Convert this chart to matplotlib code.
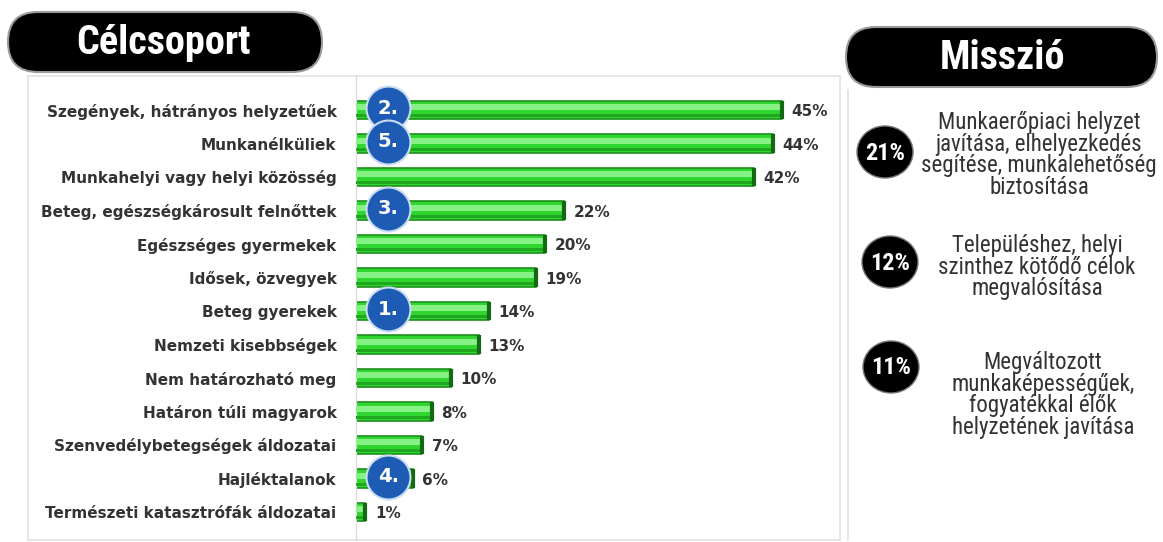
import matplotlib
matplotlib.use("Agg")
import matplotlib.pyplot as plt
from matplotlib.patches import FancyBboxPatch, Rectangle, Ellipse

categories = [
    "Szegények, hátrányos helyzetűek",
    "Munkanélküliek",
    "Munkahelyi vagy helyi közösség",
    "Beteg, egészségkárosult felnőttek",
    "Egészséges gyermekek",
    "Idősek, özvegyek",
    "Beteg gyerekek",
    "Nemzeti kisebbségek",
    "Nem határozható meg",
    "Határon túli magyarok",
    "Szenvedélybetegségek áldozatai",
    "Hajléktalanok",
    "Természeti katasztrófák áldozatai",
]
values = [45, 44, 42, 22, 20, 19, 14, 13, 10, 8, 7, 6, 1]
badges = ["2.", "5.", None, "3.", None, None, "1.", None, None, None, None, "4.", None]

mission_pcts = ["21%", "12%", "11%"]
mission_texts = [
    "Munkaerőpiaci helyzet\njavítása, elhelyezkedés\nsegítése, munkalehetőség\nbiztosítása",
    "Településhez, helyi\nszinthez kötődő célok\nmegvalósítása",
    "Megváltozott\nmunkaképességűek,\nfogyatékkal élők\nhelyzetének javítása",
]

W, H = 1163, 542
COND = ["Roboto Condensed", "DejaVu Sans"]

fig = plt.figure(figsize=(W / 100, H / 100), dpi=100)
fig.patch.set_facecolor("white")

ov = fig.add_axes([0, 0, 1, 1])
ov.set_xlim(0, W)
ov.set_ylim(H, 0)
ov.axis("off")

ov.add_patch(Rectangle((28, 76), 812, 464, fill=False, edgecolor="#e2e2e2", lw=1.2))
ov.plot([848, 848], [90, 540], color="#e0e0e0", lw=1.2)

def pill(x0, y0, x1, y1, text, tx):
    r = (y1 - y0) / 2
    ov.add_patch(FancyBboxPatch((x0, y0), x1 - x0, y1 - y0,
                                boxstyle=f"round,pad=0,rounding_size={r}",
                                facecolor="black", edgecolor="#9a9a9a", lw=1.5, zorder=5))
    ov.text(tx, (y0 + y1) / 2 + 1, text, color="white", fontsize=29,
            family=COND, fontweight="bold", ha="center", va="center", zorder=6)

pill(8, 12, 322, 72, "Célcsoport", 164)
pill(846, 27, 1157, 87, "Misszió", 1003)

circ_centers = [(885, 152), (890, 262), (891, 367)]
text_centers = [(1039, 155), (1037, 267), (1043, 395)]
for pct, txt, (cx, cy), (tx, ty) in zip(mission_pcts, mission_texts, circ_centers, text_centers):
    ov.add_patch(Ellipse((cx, cy), 56, 52, facecolor="black", edgecolor="#777777", lw=1, zorder=5))
    ov.text(cx, cy + 1, pct, color="white", fontsize=17.5, fontweight="bold",
            family=COND, ha="center", va="center", zorder=6)
    ov.text(tx, ty, txt, color="#333333", fontsize=16.5,
            family=COND, ha="center", va="center", linespacing=0.92, zorder=6)

def fx(px):
    return px / W

def fy(py):
    return 1 - py / H

ax = fig.add_axes([fx(356), fy(540), fx(839) - fx(356), fy(75) - fy(540)])
n = len(categories)
ypos = list(range(n))
ax.set_xlim(0, 51)
top_px, step = 110, 33.5
ax.set_ylim((540 - top_px) / step, -(top_px - 75) / step)

ax.barh(ypos, values, height=0.56, color="#2fd62f", edgecolor="#1f8f1f", lw=1.2, zorder=2)
ax.barh([y - 0.08 for y in ypos], values, height=0.18, color="#86f286", lw=0, zorder=3)
ax.barh([y + 0.17 for y in ypos], values, height=0.1, color="#1fa81f", lw=0, zorder=3)
for y, v in zip(ypos, values):
    ax.plot([v, v], [y - 0.28, y + 0.28], color="#146914", lw=3, solid_capstyle="butt", zorder=4)
    ax.text(v + 1.0, y + 0.05, f"{v}%", va="center", ha="left", fontsize=11,
            fontweight="bold", color="#333333")

for y, b in zip(ypos, badges):
    if b:
        ax.scatter([3.4], [y - 0.05], s=1000, color="#1e5bb5", edgecolor="#c9dcf2",
                   lw=1.5, zorder=6)
        ax.text(3.4, y - 0.05, b, color="white", fontsize=14, fontweight="bold",
                ha="center", va="center", zorder=7)

ax.set_yticks(ypos)
ax.set_yticklabels(categories, fontsize=11, fontweight="bold", color="#333333")
ax.tick_params(axis="y", length=0, pad=14)
ax.set_xticks([])
for s in ["top", "right", "bottom"]:
    ax.spines[s].set_visible(False)
ax.spines["left"].set_color("#d8d8d8")
ax.set_facecolor("none")

fig.savefig("out.png", dpi=100, facecolor="white")
